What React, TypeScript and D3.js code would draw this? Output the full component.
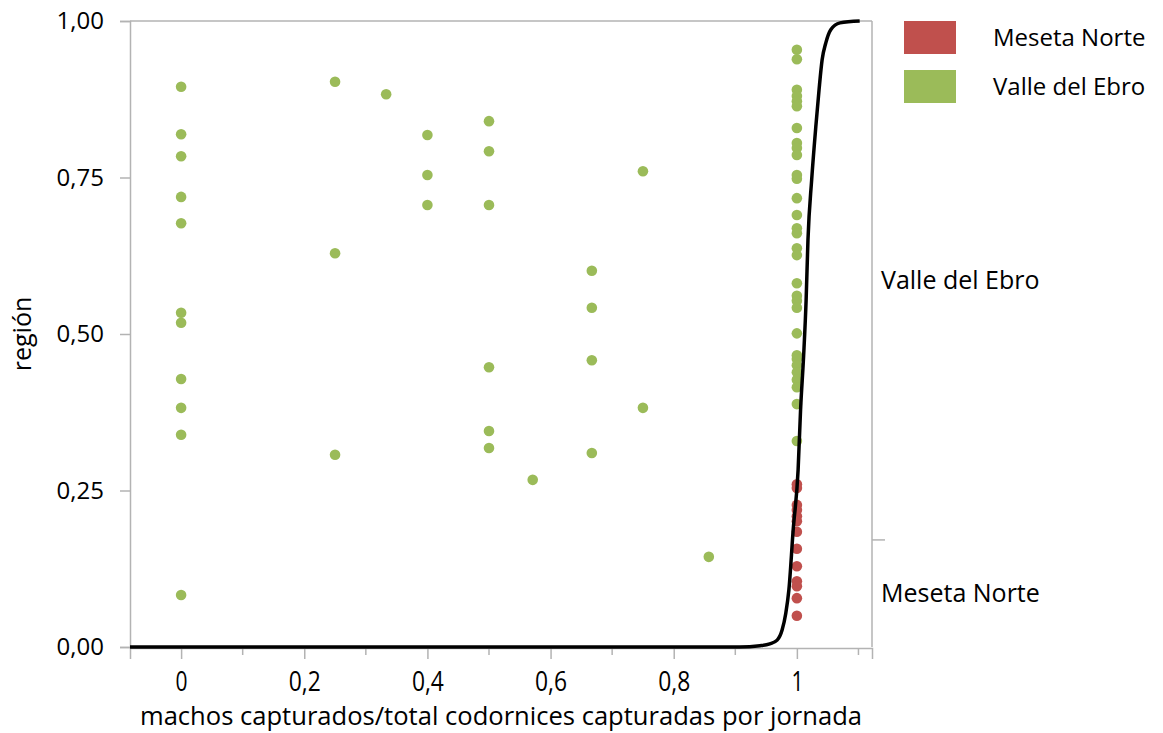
import React, { useRef, useEffect } from 'react';
import * as d3 from 'd3';

// [machos/total, posición vertical]
const valleDelEbro: [number, number][] = [
  [0, 0.895], [0, 0.819], [0, 0.784], [0, 0.719], [0, 0.677], [0, 0.534],
  [0, 0.518], [0, 0.428], [0, 0.382], [0, 0.339], [0, 0.083],
  [0.25, 0.903], [0.25, 0.629], [0.25, 0.307],
  [0.333, 0.883],
  [0.4, 0.818], [0.4, 0.754], [0.4, 0.706],
  [0.5, 0.84], [0.5, 0.792], [0.5, 0.706], [0.5, 0.447], [0.5, 0.345], [0.5, 0.318],
  [0.571, 0.267],
  [0.667, 0.601], [0.667, 0.542], [0.667, 0.458], [0.667, 0.31],
  [0.75, 0.76], [0.75, 0.382],
  [0.857, 0.144],
  [1, 0.954], [1, 0.939], [1, 0.89], [1, 0.88], [1, 0.872], [1, 0.864],
  [1, 0.829], [1, 0.805], [1, 0.797], [1, 0.786], [1, 0.754], [1, 0.748],
  [1, 0.717], [1, 0.69], [1, 0.669], [1, 0.661], [1, 0.637], [1, 0.626],
  [1, 0.581], [1, 0.561], [1, 0.553], [1, 0.542], [1, 0.501], [1, 0.466],
  [1, 0.46], [1, 0.45], [1, 0.439], [1, 0.427], [1, 0.415], [1, 0.388], [1, 0.329],
];

const mesetaNorte: [number, number][] = [
  [1, 0.26], [1, 0.254], [1, 0.227], [1, 0.219], [1, 0.209], [1, 0.201],
  [1, 0.184], [1, 0.157], [1, 0.129], [1, 0.105], [1, 0.097], [1, 0.078], [1, 0.05],
];

// fitted probability curve
const fitCurve: [number, number][] = [
  [-0.083, 0], [0.907, 0], [0.94, 0.002], [0.956, 0.005], [0.968, 0.011],
  [0.976, 0.027], [0.982, 0.054], [0.987, 0.091], [0.994, 0.187], [1.002, 0.283],
  [1.006, 0.379], [1.011, 0.466], [1.015, 0.554], [1.018, 0.65], [1.024, 0.746],
  [1.031, 0.834], [1.036, 0.89], [1.041, 0.938], [1.047, 0.965], [1.055, 0.986],
  [1.07, 0.997], [1.102, 1],
];

const xMajorTicks = [0, 0.2, 0.4, 0.6, 0.8, 1];
const xMinorTicks = [0.1, 0.3, 0.5, 0.7, 0.9, 1.1];
const yTicks = [0, 0.25, 0.5, 0.75, 1];

const legendItems = [
  { label: 'Meseta Norte', color: '#c0504d' },
  { label: 'Valle del Ebro', color: '#9bbb59' },
];

const FONT = '"Open Sans", "Noto Sans", sans-serif';
const AXIS = '#b3b3b3';

export default function App() {
  const ref = useRef<SVGSVGElement>(null);

  useEffect(() => {
    const svg = d3.select(ref.current);
    svg.selectAll('*').remove();

    const left = 130, right = 872, top = 21, bottom = 647;

    const x = d3.scaleLinear().domain([-0.083, 1.122]).range([left, right]);
    const y = d3.scaleLinear().domain([0, 1]).range([bottom, top]);

    const fmt = (v: number) => d3.format('.2f')(v).replace('.', ',');
    const fmtX = (v: number) => String(v).replace('.', ',');

    // frame
    svg.append('line').attr('x1', left).attr('x2', right).attr('y1', top).attr('y2', top)
      .attr('stroke', AXIS).attr('stroke-width', 1.5);
    svg.append('line').attr('x1', right).attr('x2', right).attr('y1', top).attr('y2', bottom)
      .attr('stroke', AXIS).attr('stroke-width', 1.5);

    // left axis
    const yAxis = svg.append('g').attr('transform', `translate(${left},0)`)
      .call(d3.axisLeft(y).tickValues(yTicks).tickSize(10).tickPadding(16).tickFormat(d => fmt(+d)));
    yAxis.select('.domain').attr('stroke', AXIS).attr('stroke-width', 1.5);
    yAxis.selectAll('.tick line').attr('stroke', AXIS).attr('stroke-width', 1.5);
    yAxis.selectAll('.tick text').attr('fill', '#000').style('font-size', '24px').style('font-family', FONT);

    // bottom axis (labels drawn narrow, as in the original)
    const xAxis = svg.append('g').attr('transform', `translate(0,${bottom + 1})`)
      .call(d3.axisBottom(x).tickValues(xMajorTicks).tickSize(11).tickPadding(12).tickFormat(d => fmtX(+d)));
    xAxis.select('.domain').attr('stroke', AXIS).attr('stroke-width', 1.5);
    xAxis.selectAll('.tick line').attr('stroke', AXIS).attr('stroke-width', 1.5);
    xAxis.selectAll<SVGTextElement, number>('.tick text').attr('fill', '#000')
      .style('font-size', '28px').style('font-family', FONT)
      .attr('textLength', d => (d === 0 || d === 1 ? 12 : 32))
      .attr('lengthAdjust', 'spacingAndGlyphs');
    svg.append('g').attr('transform', `translate(0,${bottom + 1})`)
      .selectAll('line').data(xMinorTicks).join('line')
      .attr('x1', d => x(d)).attr('x2', d => x(d)).attr('y1', 0).attr('y2', 7)
      .attr('stroke', AXIS).attr('stroke-width', 1.5);

    // right axis: category shares
    const share = mesetaNorte.length / (mesetaNorte.length + valleDelEbro.length);
    svg.append('line').attr('x1', right).attr('x2', right + 13).attr('y1', y(share)).attr('y2', y(share))
      .attr('stroke', AXIS).attr('stroke-width', 1.5);
    svg.append('text').attr('x', right + 9).attr('y', y(share / 2)).attr('dy', '0.35em')
      .style('font-size', '25px').style('font-family', FONT).text('Meseta Norte');
    svg.append('text').attr('x', right + 9).attr('y', y((1 + share) / 2)).attr('dy', '0.35em')
      .style('font-size', '25px').style('font-family', FONT).text('Valle del Ebro');

    // axis titles
    svg.append('text').attr('transform', `translate(22,${(top + bottom) / 2}) rotate(-90)`)
      .attr('text-anchor', 'middle').attr('dy', '0.35em')
      .style('font-size', '25px').style('font-family', FONT).text('región');
    svg.append('text').attr('x', 140).attr('y', 716)
      .attr('dy', '0.35em').style('font-size', '25px').style('font-family', FONT)
      .attr('textLength', 722).attr('lengthAdjust', 'spacingAndGlyphs')
      .text('machos capturados/total codornices capturadas por jornada');

    // points
    svg.append('g').selectAll('circle').data(valleDelEbro).join('circle')
      .attr('cx', d => x(d[0])).attr('cy', d => y(d[1])).attr('r', 5.3).attr('fill', '#9bbb59');
    svg.append('g').selectAll('circle').data(mesetaNorte).join('circle')
      .attr('cx', d => x(d[0])).attr('cy', d => y(d[1])).attr('r', 5.3).attr('fill', '#c0504d');

    // fit curve
    const line = d3.line<[number, number]>().x(d => x(d[0])).y(d => y(d[1])).curve(d3.curveMonotoneX);
    svg.append('path').attr('d', line(fitCurve)).attr('fill', 'none')
      .attr('stroke', '#000').attr('stroke-width', 3.5);

    // legend
    const legend = svg.append('g').attr('transform', 'translate(904,21)');
    const items = legend.selectAll('g').data(legendItems).join('g')
      .attr('transform', (d, i) => `translate(0,${i * 49})`);
    items.append('rect').attr('width', 52).attr('height', 33).attr('fill', d => d.color);
    items.append('text').attr('x', 89).attr('y', 17).attr('dy', '0.35em')
      .style('font-size', '24px').style('font-family', FONT).text(d => d.label);
  }, []);

  return (
    <svg ref={ref} width={1163} height={733}
      style={{ position: 'absolute', left: 0, top: 0, background: '#fff' }} />
  );
}
